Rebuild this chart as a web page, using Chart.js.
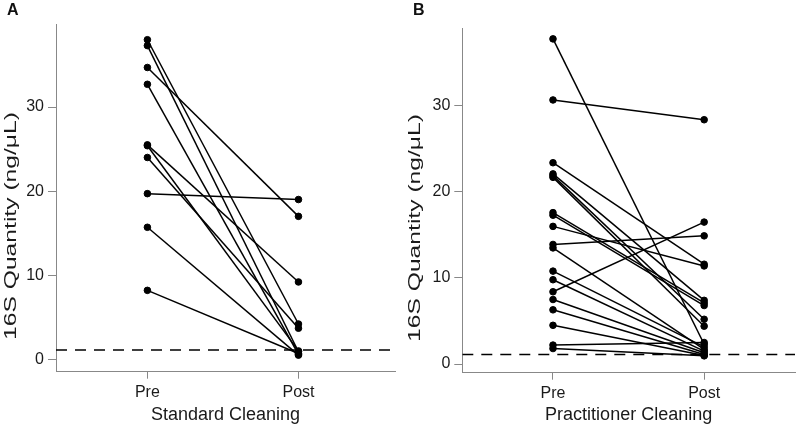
<!DOCTYPE html>
<html>
<head>
<meta charset="utf-8">
<script src="https://cdn.jsdelivr.net/npm/chart.js@4.4.1/dist/chart.umd.min.js"></script>
<style>
  body { margin: 0; background: #fff; }
  #wrap { display: flex; width: 800px; height: 424px; }
  canvas { display: block; }
</style>
</head>
<body>
<div id="wrap">
  <canvas id="chartA" width="400" height="424"></canvas>
  <canvas id="chartB" width="400" height="424"></canvas>
</div>
<script>
// values, one pair per sample (Pre -> Post)
const groups = ['Pre', 'Post'];
const preStandard  = [38.0, 37.3, 34.7, 32.7, 25.5, 25.4, 24.0, 19.7, 15.7, 8.2];
const postStandard = [4.2, 0.9, 17.0, 0.6, 9.2, 1.0, 3.7, 19.0, 0.5, 0.7];
const prePractitioner  = [37.8, 30.7, 23.4, 22.1, 21.9, 21.7, 17.6, 17.3, 16.0, 13.9, 13.5, 10.8, 9.8, 8.4, 7.5, 6.3, 4.5, 2.2, 1.8];
const postPractitioner = [2.3, 28.4, 11.6, 7.4, 5.2, 4.4, 7.1, 6.8, 11.4, 14.9, 1.7, 2.0, 1.5, 16.5, 1.3, 1.1, 1.0, 2.5, 0.95];
const yTicks = [0, 10, 20, 30];
const detectionLimit = 1.1;
const yTitle = '16S Quantity (ng/\u03BCL)';

Chart.defaults.font.family = "'Liberation Sans', Arial, Helvetica, sans-serif";
Chart.defaults.color = '#1a1a1a';

// panel letter + the tall stretched y title of the original
const panelText = {
  id: 'panelText',
  afterDraw(chart, args, opts) {
    const ctx = chart.ctx;
    ctx.save();
    ctx.fillStyle = '#111';
    ctx.font = "bold 16px 'Liberation Sans', Arial, sans-serif";
    ctx.textBaseline = 'top';
    ctx.fillText(opts.letter, opts.letterX, 3);
    ctx.translate(opts.titleX, opts.titleY);
    ctx.rotate(-Math.PI / 2);
    ctx.scale(1.45, 1);
    ctx.font = "17px 'Liberation Sans', Arial, sans-serif";
    ctx.fillStyle = '#1a1a1a';
    ctx.textAlign = 'center';
    ctx.textBaseline = 'middle';
    ctx.fillText(yTitle, 0, 0);
    ctx.restore();
  }
};

function makePanel(id, pre, post, cfg) {
  const sets = pre.map((v, i) => ({
    data: [{x: 0, y: v}, {x: 1, y: post[i]}],
    showLine: true,
    borderColor: '#000',
    backgroundColor: '#000',
    borderWidth: 1.5,
    pointRadius: 3.3,
    pointBorderWidth: 1
  }));
  // detection limit
  sets.push({
    data: [{x: cfg.xMin, y: detectionLimit}, {x: cfg.xMax, y: detectionLimit}],
    showLine: true,
    borderColor: '#000',
    borderWidth: 1.5,
    borderDash: [11, 8],
    pointRadius: 0
  });

  return new Chart(document.getElementById(id), {
    type: 'scatter',
    data: { datasets: sets },
    options: {
      responsive: false,
      animation: false,
      layout: { padding: { top: cfg.top, right: 0, left: 0, bottom: 0 } },
      plugins: {
        legend: { display: false },
        tooltip: { enabled: false },
        panelText: { letter: cfg.letter, letterX: cfg.letterX, titleX: cfg.titleX, titleY: cfg.titleY }
      },
      scales: {
        x: {
          type: 'linear',
          min: cfg.xMin,
          max: cfg.xMax,
          afterBuildTicks: s => { s.ticks = [{value: 0}, {value: 1}]; },
          afterFit: s => { s.height = cfg.xHeight; },
          ticks: { callback: v => groups[v], font: { size: 16 }, padding: 4, color: '#1a1a1a', maxRotation: 0, autoSkip: false },
          grid: { drawOnChartArea: false, drawTicks: true, tickLength: 7, color: '#888' },
          border: { display: true, color: '#888', width: 1 },
          title: { display: true, text: cfg.xTitle, font: { size: 18 }, color: '#1a1a1a', padding: { top: 0, bottom: -2 } }
        },
        y: {
          min: cfg.yMin,
          max: cfg.yMax,
          afterBuildTicks: s => { s.ticks = yTicks.map(v => ({value: v})); },
          afterFit: s => { s.width = cfg.yWidth; },
          ticks: { font: { size: 16 }, padding: 4, color: '#1a1a1a' },
          grid: { drawOnChartArea: false, drawTicks: true, tickLength: 8, color: '#888' },
          border: { display: true, color: '#888', width: 1 }
        }
      }
    },
    plugins: [panelText]
  });
}

makePanel('chartA', preStandard, postStandard, {
  letter: 'A', letterX: 7, titleX: 11, titleY: 226,
  xTitle: 'Standard Cleaning',
  xMin: -0.605, xMax: 1.639, yMin: -1.47, yMax: 39.87,
  top: 24, yWidth: 56, xHeight: 52.3
});

makePanel('chartB', prePractitioner, postPractitioner, {
  letter: 'B', letterX: 13, titleX: 15, titleY: 228,
  xTitle: 'Practitioner Cleaning',
  xMin: -0.6, xMax: 1.601, yMin: -1.01, yMax: 39.03,
  top: 28.3, yWidth: 62.3, xHeight: 51.3
});
</script>
</body>
</html>
